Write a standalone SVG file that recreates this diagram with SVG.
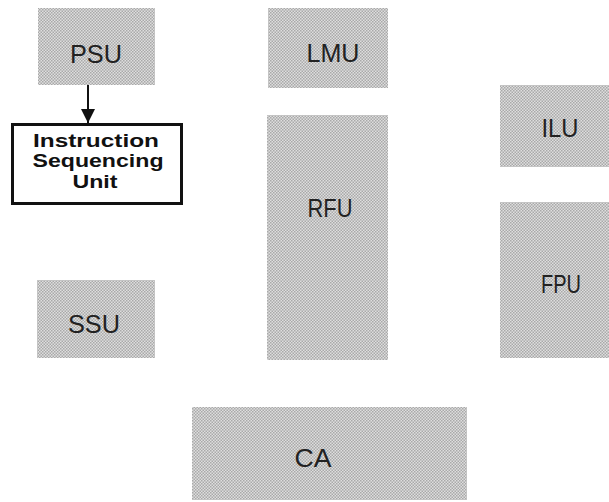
<svg xmlns="http://www.w3.org/2000/svg" width="609" height="502" viewBox="0 0 609 502">
<defs>
<pattern id="dots" width="3" height="3" patternUnits="userSpaceOnUse">
<rect width="3" height="3" fill="#dedede"/>
<rect x="0" y="0" width="1.5" height="1.5" fill="#a9a9a9"/>
<rect x="1.5" y="1.5" width="1.5" height="1.5" fill="#a9a9a9"/>
</pattern>
<marker id="arr" viewBox="0 0 10 10" refX="10" refY="5" markerWidth="7" markerHeight="7" markerUnits="strokeWidth" orient="auto">
<path d="M0,0 L10,5 L0,10 Z" fill="#111"/>
</marker>
</defs>
<style>
.unit{fill:url(#dots)}
.lbl{font-family:"Liberation Sans",Arial,sans-serif;font-size:26px;fill:#222;text-anchor:middle}
.isu{font-family:"Liberation Sans",Arial,sans-serif;font-size:18px;font-weight:bold;fill:#111;text-anchor:middle}
</style>
<rect width="609" height="502" fill="#ffffff"/>
<g id="PSU"><rect class="unit" x="38" y="8" width="117" height="77"/><text class="lbl" x="96" y="63" textLength="52" lengthAdjust="spacingAndGlyphs">PSU</text></g>
<g id="LMU"><rect class="unit" x="268" y="8" width="120" height="80"/><text class="lbl" x="333" y="62" textLength="53" lengthAdjust="spacingAndGlyphs">LMU</text></g>
<g id="ILU"><rect class="unit" x="500" y="85" width="109" height="82"/><text class="lbl" x="560" y="137" textLength="37" lengthAdjust="spacingAndGlyphs">ILU</text></g>
<g id="RFU"><rect class="unit" x="267" y="115" width="121" height="245"/><text class="lbl" x="330" y="217" textLength="45" lengthAdjust="spacingAndGlyphs">RFU</text></g>
<g id="FPU"><rect class="unit" x="500" y="202" width="109" height="156"/><text class="lbl" x="561" y="293" textLength="40" lengthAdjust="spacingAndGlyphs">FPU</text></g>
<g id="SSU"><rect class="unit" x="37" y="280" width="118" height="78"/><text class="lbl" x="94" y="333" textLength="52" lengthAdjust="spacingAndGlyphs">SSU</text></g>
<g id="CA"><rect class="unit" x="192" y="407" width="275" height="93"/><text class="lbl" x="313" y="467" textLength="37" lengthAdjust="spacingAndGlyphs">CA</text></g>
<g id="ISU"><rect x="12.5" y="124.5" width="169" height="79" fill="#ffffff" stroke="#111" stroke-width="3"/>
<text class="isu" x="96" y="147" textLength="126" lengthAdjust="spacingAndGlyphs">Instruction</text>
<text class="isu" x="98" y="167" textLength="131" lengthAdjust="spacingAndGlyphs">Sequencing</text>
<text class="isu" x="95" y="188" textLength="45" lengthAdjust="spacingAndGlyphs">Unit</text></g>
<g id="connectors"><line x1="88" y1="85" x2="88" y2="123" stroke="#111" stroke-width="2" marker-end="url(#arr)"/></g>
</svg>
